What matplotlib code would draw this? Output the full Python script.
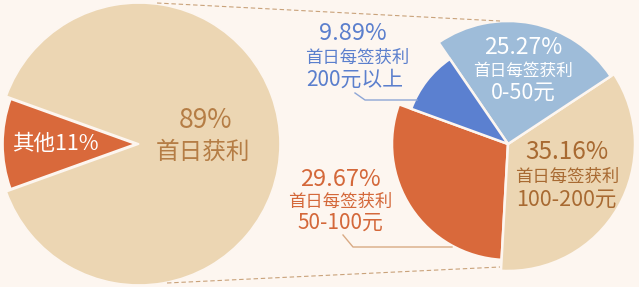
import matplotlib.pyplot as plt

plt.rcParams['font.family'] = ['Noto Sans CJK SC', 'DejaVu Sans']
plt.rcParams['font.weight'] = 'light'

# left pie: share of first-day profit
left_labels = ['其他', '首日获利']
left_values = [11, 89]

# right pie: profit per lot on first day
right_pcts = [29.67, 35.16, 25.27, 9.89]
right_ranges = ['50-100元', '100-200元', '0-50元', '200元以上']
right_cat = '首日每签获利'

bg = '#fdf6f0'
tan = '#ecd6b3'
orange = '#d9693b'
blue_dark = '#5b80d0'
blue_light = '#9ebcd9'

H = 287
def Y(y):
    return H - y

fig = plt.figure(figsize=(6.39, 2.87), dpi=100, facecolor=bg)
ax = fig.add_axes([0, 0, 1, 1])
ax.set_facecolor(bg)

# dashed connectors
ax.plot([157, 500], [Y(3), Y(21)], ls=(0, (4, 2.5)), color='#c9a27a', lw=0.8)
ax.plot([167, 500], [Y(283), Y(267)], ls=(0, (4, 2.5)), color='#c9a27a', lw=0.8)

# left pie
lw, _ = ax.pie(left_values, startangle=180 - left_values[0] * 1.8,
               colors=[orange, tan], center=(139, Y(144)), radius=141,
               wedgeprops=dict(edgecolor=bg, linewidth=1.2))
lw[0].set_center((135, Y(144)))
lw[0].set_radius(132)

ax.text(55, Y(144), f'{left_labels[0]}{left_values[0]}%', color='white',
        fontsize=15.5, ha='center', va='center')
ax.text(205, Y(121), f'{left_values[1]}%', color='#b57d45', fontsize=19,
        ha='center', va='center')
ax.text(203, Y(152), left_labels[1], color='#b57d45', fontsize=17,
        ha='center', va='center')

# right pie
rw, _ = ax.pie(right_pcts, startangle=160, counterclock=True,
               colors=[orange, tan, blue_light, blue_dark],
               center=(508, Y(144)), radius=127,
               wedgeprops=dict(edgecolor=bg, linewidth=1.8))
for w, r in zip(rw, [116, 127, 123, 103]):
    w.set_radius(r)

# 0-50 label (inside light blue)
ax.text(523, Y(47), f'{right_pcts[2]}%', color='white', fontsize=16.5, ha='center', va='center')
ax.text(523, Y(71), right_cat, color='white', fontsize=12, ha='center', va='center')
ax.text(523, Y(93), right_ranges[2], color='white', fontsize=15.5, ha='center', va='center')

# 100-200 label (inside tan)
c = '#a86a32'
ax.text(567, Y(152), f'{right_pcts[1]}%', color=c, fontsize=17.5, ha='center', va='center')
ax.text(567, Y(177), right_cat, color=c, fontsize=12.5, ha='center', va='center')
ax.text(566, Y(200), right_ranges[1], color=c, fontsize=15.5, ha='center', va='center')

# 200+ label
c = '#5b7fcd'
ax.text(353, Y(34), f'{right_pcts[3]}%', color=c, fontsize=17, ha='center', va='center')
ax.text(357, Y(58), right_cat, color=c, fontsize=12.5, ha='center', va='center')
ax.text(355, Y(80), right_ranges[3], color=c, fontsize=15, ha='center', va='center')
ax.plot([355, 365, 417], [Y(93), Y(100), Y(100)], color='#8ea6d6', lw=1)

# 50-100 label
c = '#d4683a'
ax.text(340, Y(180), f'{right_pcts[0]}%', color=c, fontsize=17, ha='center', va='center')
ax.text(340, Y(202), right_cat, color=c, fontsize=12.5, ha='center', va='center')
ax.text(340, Y(223), right_ranges[0], color=c, fontsize=15, ha='center', va='center')
ax.plot([343, 353, 452], [Y(235), Y(247), Y(247)], color='#d9aa84', lw=1)

ax.set_xlim(0, 639)
ax.set_ylim(0, H)
ax.set_aspect('auto')
ax.axis('off')

fig.savefig('out.png', dpi=100, facecolor=bg)
